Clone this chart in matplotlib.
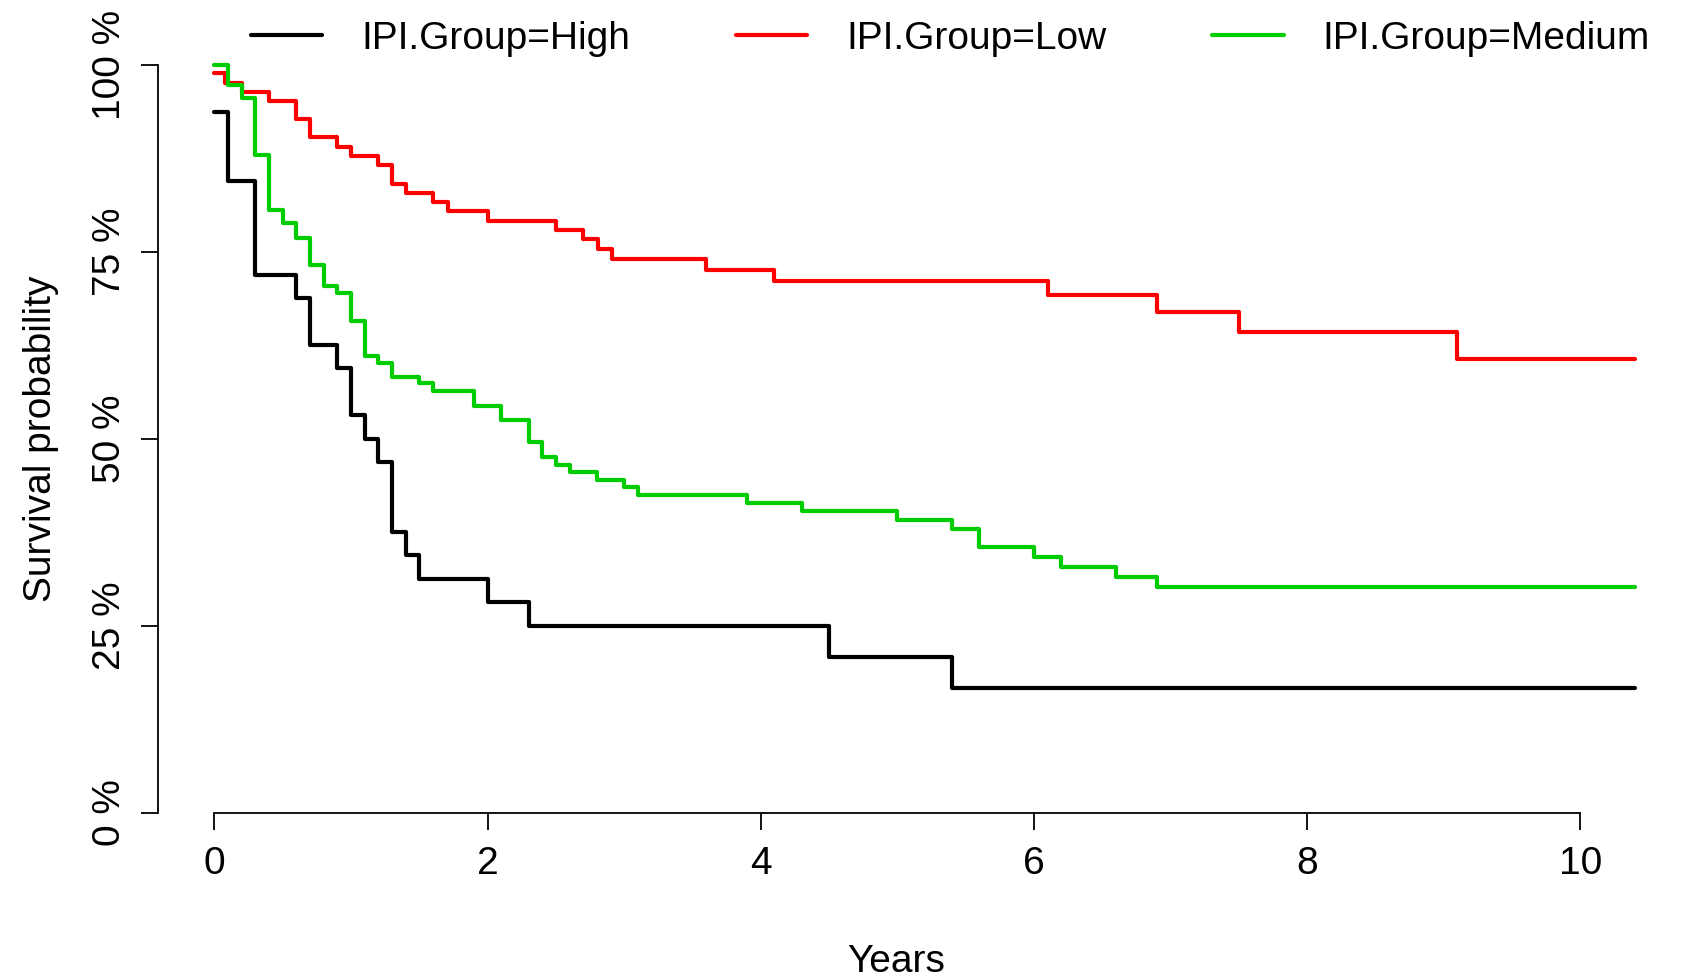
import matplotlib
matplotlib.use("Agg")
import matplotlib.pyplot as plt
from matplotlib.lines import Line2D

plt.rcParams["font.family"] = ["Liberation Sans", "DejaVu Sans"]

# Kaplan-Meier Stufen (Jahre, Überleben in %)
high_t = [0, 0.10, 0.30, 0.60, 0.70, 0.90, 1.00, 1.10, 1.20, 1.30, 1.40, 1.50, 2.00, 2.30, 4.50, 5.40, 10.40]
high_s = [93.75, 84.4, 71.9, 68.75, 62.5, 59.4, 53.1, 50.0, 46.9, 37.5, 34.4, 31.25, 28.1, 25.0, 20.8, 16.7, 16.7]

low_t = [0, 0.08, 0.20, 0.40, 0.60, 0.70, 0.90, 1.00, 1.20, 1.30, 1.40, 1.60, 1.71, 2.00, 2.50, 2.70, 2.81,
         2.91, 3.60, 4.10, 6.10, 6.90, 7.50, 9.10, 10.40]
low_s = [98.9, 97.5, 96.4, 95.2, 92.7, 90.3, 89.05, 87.85, 86.6, 84.1, 82.9, 81.65, 80.4, 79.15, 77.9, 76.7,
         75.4, 74.0, 72.55, 71.1, 69.2, 67.0, 64.2, 60.65, 60.65]

med_t = [0, 0.10, 0.20, 0.30, 0.40, 0.50, 0.60, 0.70, 0.80, 0.90, 1.00, 1.10, 1.20, 1.30, 1.50, 1.60, 1.90,
         2.10, 2.30, 2.40, 2.50, 2.60, 2.80, 3.00, 3.10, 3.90, 4.30, 5.00, 5.40, 5.60, 6.00, 6.20, 6.60, 6.90, 10.40]
med_s = [100, 97.3, 95.5, 88.0, 80.6, 78.8, 76.9, 73.2, 70.4, 69.5, 65.7, 61.1, 60.1, 58.2, 57.4, 56.4, 54.4,
         52.5, 49.6, 47.5, 46.5, 45.5, 44.5, 43.5, 42.4, 41.4, 40.3, 39.1, 37.9, 35.5, 34.2, 32.9, 31.5, 30.1, 30.1]

groups = ["IPI.Group=High", "IPI.Group=Low", "IPI.Group=Medium"]
colors = ["black", "#FF0000", "#00CD00"]
x_ticks = [0, 2, 4, 6, 8, 10]
y_ticks = [0, 25, 50, 75, 100]
y_labels = ["0 %", "25 %", "50 %", "75 %", "100 %"]

FS = 28
LW = 3.0
fig = plt.figure(figsize=(16.94, 9.8), dpi=100)
ax = fig.add_axes([0.0930, 0.1709, 0.9057, 0.7630])

for t, s, c in zip([high_t, low_t, med_t], [high_s, low_s, med_s], colors):
    ax.plot(t, s, drawstyle="steps-post", color=c, lw=LW, clip_on=False,
            solid_joinstyle="round", solid_capstyle="round")

ax.set_xlim(-0.416, 10.816)
ax.set_ylim(0, 100)
for sp in ["top", "right"]:
    ax.spines[sp].set_visible(False)
ax.spines["left"].set_bounds(0, 100)
ax.spines["bottom"].set_bounds(0, 10)
for sp in ["left", "bottom"]:
    ax.spines[sp].set_linewidth(1.3)

ax.set_xticks(x_ticks)
ax.set_xticklabels([str(v) for v in x_ticks], fontsize=FS)
ax.set_yticks(y_ticks)
ax.set_yticklabels(y_labels, fontsize=FS, rotation=90, va="center")
ax.tick_params(direction="out", length=12, width=1.3)
ax.tick_params(axis="x", pad=12)
ax.tick_params(axis="y", pad=9)

ax.set_xlabel("Years", fontsize=FS)
ax.xaxis.set_label_coords(0.4816, -0.1765)
ax.set_ylabel("Survival probability", fontsize=FS, va="center")
ax.yaxis.set_label_coords(-0.0761, 0.5)

handles = [Line2D([], [], color=c, lw=LW, solid_capstyle="round") for c in colors]
ax.legend(handles, groups, ncol=3, loc="center left", bbox_to_anchor=(0.0607, 1.0347),
          frameon=False, fontsize=FS, handlelength=1.84, handletextpad=1.0,
          columnspacing=2.72, borderpad=0, borderaxespad=0)

fig.savefig("out.png", dpi=100)
